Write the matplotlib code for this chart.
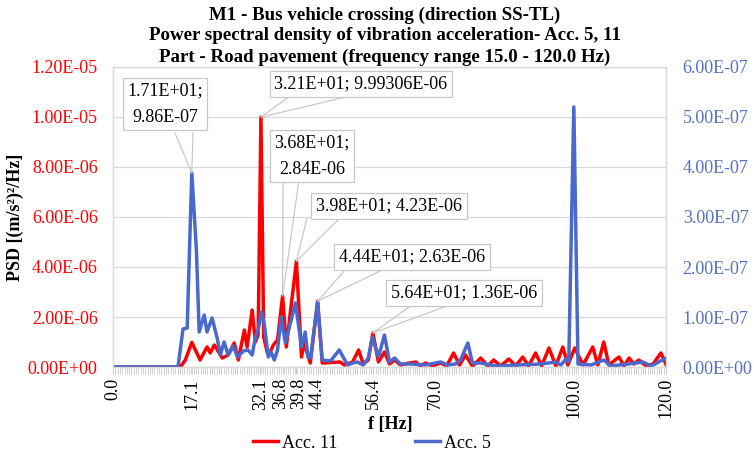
import matplotlib
matplotlib.use("Agg")
import matplotlib.pyplot as plt
import matplotlib.transforms as mtransforms
from matplotlib.ticker import MultipleLocator, FixedLocator, FuncFormatter

# Acc. 11 (left axis), values in 1e-6 (m/s2)2/Hz
f_acc11 = [0, 14.6, 15.7, 17.1, 18.9, 20.4, 21.1, 22.0, 23.7, 25.0, 26.3, 27.2, 28.5, 29.1,
           30.2, 30.9, 31.5, 32.1, 32.7, 33.5, 34.1, 34.8, 35.7, 36.8, 37.6, 39.8, 40.9,
           41.5, 42.8, 44.4, 45.4, 49.3, 50.2, 52.0, 53.3, 54.3, 55.4, 56.4, 57.6, 58.9,
           60.0, 61.1, 62.4, 63.8, 65.7, 66.7, 67.8, 69.3, 71.1, 72.4, 73.9, 75.2, 76.5,
           78.0, 79.8, 81.3, 82.6, 84.1, 85.9, 87.4, 88.9, 90.2, 91.7, 93.0, 94.6, 96.1,
           97.6, 98.7, 100.2, 102.0, 104.1, 105.2, 106.5, 107.6, 109.8, 110.9, 112.0,
           113.0, 114.1, 115.7, 117.2, 118.9, 120.0]
psd_acc11 = [0, 0, 0.28, 0.986, 0.28, 0.8, 0.56, 0.88, 0.36, 0.48, 0.96, 0.28, 1.48, 0.8,
             2.28, 1.0, 1.3, 9.99306, 1.2, 0.56, 0.6, 0.88, 1.08, 2.84, 0.8, 4.23, 0.4,
             0.96, 0.16, 2.63, 0.16, 0.2, 0.08, 0.2, 0.68, 0.12, 0.28, 1.36, 0.2, 0.6,
             0.12, 0.28, 0.08, 0.14, 0.2, 0.04, 0.16, 0.04, 0.16, 0.04, 0.56, 0.08, 0.48,
             0.04, 0.36, 0.04, 0.28, 0.04, 0.32, 0.04, 0.4, 0.04, 0.56, 0.04, 0.76, 0.04,
             0.8, 0.08, 0.76, 0.08, 0.8, 0.08, 1.0, 0.08, 0.4, 0.04, 0.36,
             0.12, 0.28, 0.04, 0.12, 0.56, 0.1]

# Acc. 5 (right axis), values in 1e-7 (m/s2)2/Hz
f_acc5 = [0, 14.1, 15.2, 16.1, 16.6, 17.1, 18.1, 18.7, 19.8, 20.4, 21.5, 22.6, 23.3, 24.1,
          25.0, 26.1, 27.0, 28.3, 29.3, 30.2, 30.9, 31.5, 32.2, 32.8, 33.7, 34.3, 35.0,
          35.7, 36.5, 37.4, 39.6, 40.9, 41.7, 42.3, 42.9, 44.4, 45.4, 47.2, 49.1, 50.9,
          52.0, 53.0, 54.3, 55.4, 56.3, 57.6, 58.9, 60.0, 61.1, 62.4, 64.6, 67.8, 71.1,
          72.6, 74.3, 75.4, 77.0, 78.0, 79.8, 80.9, 83.0, 88.0, 92.8, 96.1, 97.2, 98.5,
          98.9, 100.0, 100.9, 103.7, 106.5, 108.0, 111.7, 115.0, 116.8, 120.0]
psd_acc5 = [0, 0, 0.76, 0.78, 2.34, 3.88, 2.34, 0.7, 1.04, 0.7, 0.98, 0.58, 0.24, 0.5,
            0.24, 0.42, 0.2, 0.32, 0.34, 0.24, 0.6, 0.74, 1.1, 0.88, 0.2, 0.3, 0.14,
            0.34, 1.0, 0.48, 1.28, 0.4, 0.7, 0.2, 0.18, 1.3, 0.14, 0.12, 0.34, 0.04,
            0.08, 0.1, 0.04, 0.18, 0.6, 0.2, 0.64, 0.1, 0.18, 0.06, 0.06, 0.04, 0.1,
            0.04, 0.06, 0.14, 0.48, 0.08, 0.08, 0.06, 0.02, 0.04, 0.06, 0.1, 0.04, 0.18,
            0.1, 5.2, 0.06, 0.04, 0.14, 0.02, 0.06, 0.1, 0.02, 0.18]

x_ticks = [0.0, 17.1, 32.1, 36.8, 39.8, 44.4, 56.4, 70.0, 100.0, 120.0]

# callouts: (text, frequency of the marked point, which series)
callouts = [
    ("1.71E+01;\n9.86E-07", 17.1, "acc5"),
    ("3.21E+01; 9.99306E-06", 32.1, "acc11"),
    ("3.68E+01;\n2.84E-06", 36.8, "acc11"),
    ("3.98E+01; 4.23E-06", 39.8, "acc11"),
    ("4.44E+01; 2.63E-06", 44.4, "acc11"),
    ("5.64E+01; 1.36E-06", 56.4, "acc11"),
]

RED = "#ff0000"
BLUE = "#4a69cc"
BLUE_TXT = "#5570c8"
GRID = "#d9d9d9"
SERIF = ["Liberation Serif", "DejaVu Serif"]
FS = 13

plt.rcParams['font.family'] = SERIF

W, H = 754, 454
fig = plt.figure(figsize=(W / 100, H / 100), dpi=100)
L, R, T, B = 113, 666, 67, 367
ax = fig.add_axes([L / W, 1 - B / H, (R - L) / W, (B - T) / H])
ax2 = ax.twinx()

ax.plot(f_acc11, [v * 1e-6 for v in psd_acc11], color=RED, lw=2.5,
        solid_joinstyle='round', label="Acc. 11", zorder=2)
ax2.plot(f_acc5, [v * 1e-7 for v in psd_acc5], color=BLUE, lw=2.5,
         solid_joinstyle='round', label="Acc. 5", zorder=2)

ax.set_xlim(0, 120)
ax.set_ylim(0, 1.2e-5)
ax2.set_ylim(0, 6e-7)
ax.yaxis.set_major_locator(MultipleLocator(2e-6))
ax2.yaxis.set_major_locator(MultipleLocator(1e-7))
sci = FuncFormatter(lambda v, p: "{:.2E}".format(v))
ax.yaxis.set_major_formatter(sci)
ax2.yaxis.set_major_formatter(sci)

ax.xaxis.set_major_locator(FixedLocator(x_ticks))
ax.xaxis.set_major_formatter(FuncFormatter(lambda v, p: "{:.1f}".format(v)))
ax.xaxis.set_minor_locator(MultipleLocator(0.5))
ax.tick_params(axis='x', which='both', length=5, width=0.6, color="#c8c8c8",
               labelsize=FS, labelrotation=90, pad=3)
ax.tick_params(axis='y', length=0, labelsize=FS, labelcolor=RED, pad=11)
ax2.tick_params(axis='y', length=0, labelsize=FS, labelcolor=BLUE_TXT, pad=12)

# the two close tick labels are pushed slightly apart
fig.canvas.draw()
for lab in ax.get_xticklabels():
    shift = {"36.8": -2, "39.8": 2}.get(lab.get_text(), 0)
    if shift:
        lab.set_transform(lab.get_transform() +
                          mtransforms.ScaledTranslation(shift / 100, 0, fig.dpi_scale_trans))

ax.yaxis.grid(True, color=GRID, lw=0.9)
ax.set_axisbelow(True)
for a in (ax, ax2):
    for s in a.spines.values():
        s.set_color(GRID)
        s.set_linewidth(0.9)

ax.set_ylabel("PSD [(m/s²)²/Hz]", fontsize=FS, fontweight='bold')
ax.yaxis.set_label_coords((24 - L) / (R - L), 0.5)

fig.text(390 / W, 1 - 425 / H, "f [Hz]", ha='center', va='center',
         fontsize=FS, fontweight='bold')
fig.text(385 / W, 1 - 36 / H,
         "M1 - Bus vehicle crossing (direction SS-TL)\n"
         "Power spectral density of vibration acceleration- Acc. 5, 11\n"
         "Part - Road pavement (frequency range 15.0 - 120.0 Hz)",
         ha='center', va='center', fontsize=13.6, fontweight='bold', linespacing=1.3)

# callout boxes: centre and the two start points of the leader lines (pixels)
box_layout = [
    ((165, 104), (175, 133), (193, 133)),
    ((361, 84), (290, 96), (350, 96)),
    ((312, 156), (283, 180), (299, 180)),
    ((389, 206), (307, 218), (340, 218)),
    ((412, 257), (345, 270), (382, 270)),
    ((464, 293), (412, 305), (450, 305)),
]


def to_axes(px, py):
    return (px - L) / (R - L), (B - py) / (B - T)


for (txt, fq, series), (centre, p1, p2) in zip(callouts, box_layout):
    if series == "acc5":
        xy = (fq, psd_acc5[f_acc5.index(fq)] * 1e-7)
        tr = ax2.transData
    else:
        xy = (fq, psd_acc11[f_acc11.index(fq)] * 1e-6)
        tr = ax.transData
    for p in (p1, p2):
        ax2.annotate("", xy=xy, xycoords=tr, xytext=to_axes(*p),
                     textcoords=ax.transAxes,
                     arrowprops=dict(arrowstyle='-', color="#c8c8c8", lw=0.9,
                                     shrinkA=0, shrinkB=0), zorder=5)
    ax2.text(*to_axes(*centre), txt, transform=ax.transAxes, ha='center',
             va='center', fontsize=FS, linespacing=1.75, zorder=6,
             bbox=dict(boxstyle='square,pad=0.25', fc='white', ec="#c8c8c8", lw=0.9))

h1, l1 = ax.get_legend_handles_labels()
h2, l2 = ax2.get_legend_handles_labels()
fig.legend(h1 + h2, l1 + l2, loc='center', bbox_to_anchor=(372 / W, 1 - 443 / H),
           ncol=2, frameon=False, fontsize=FS, handlelength=1.4, handletextpad=0.2,
           columnspacing=4.3)

fig.savefig("out.png", dpi=100)
